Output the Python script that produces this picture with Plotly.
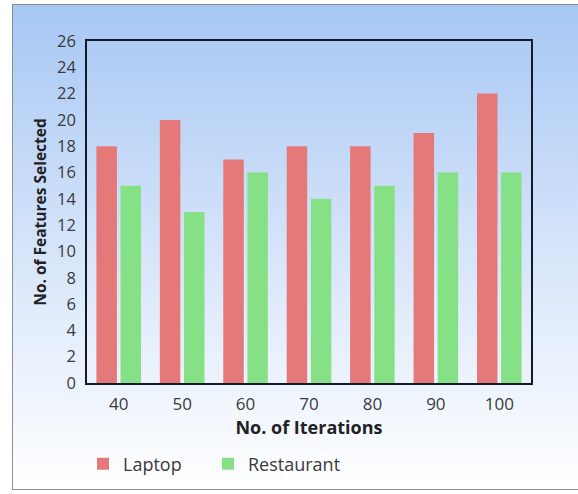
import base64
import plotly.graph_objects as go

iterations = ["40", "50", "60", "70", "80", "90", "100"]
laptop = [18, 20, 17, 18, 18, 19, 22]
restaurant = [15, 13, 16, 14, 15, 16, 16]
y_ticks = list(range(0, 27, 2))

W, H = 578, 494
ML, MR, MT, MB = 87, 47, 41, 111
PW, PH = W - ML - MR, H - MT - MB

bg_svg = (
    '<svg xmlns="http://www.w3.org/2000/svg" width="578" height="494" viewBox="0 0 578 494" preserveAspectRatio="none">'
    '<defs><linearGradient id="g" x1="0" y1="0" x2="0" y2="1">'
    '<stop offset="0" stop-color="#a7c7f4"/><stop offset="0.55" stop-color="#dae7fa"/>'
    '<stop offset="1" stop-color="#ffffff"/></linearGradient></defs>'
    '<rect x="0" y="0" width="578" height="494" fill="#ffffff"/>'
    '<rect x="12.5" y="4.5" width="570" height="485" fill="url(#g)" stroke="#8a8f96" stroke-width="1"/>'
    '</svg>'
)
bg_uri = "data:image/svg+xml;base64," + base64.b64encode(bg_svg.encode()).decode()

fig = go.Figure()
fig.add_trace(go.Bar(
    x=iterations, y=laptop, name="Laptop", legend="legend",
    marker=dict(color="#e57878", line=dict(width=0)),
))
fig.add_trace(go.Bar(
    x=iterations, y=restaurant, name="Restaurant", legend="legend2",
    marker=dict(color="#86e086", line=dict(width=0)),
))

font_family = "Open Sans, Segoe UI, DejaVu Sans, sans-serif"
legend_style = dict(
    orientation="h", y=-0.237, xanchor="left", yanchor="middle",
    font=dict(size=18, color="#3a3a3a"), bgcolor="rgba(0,0,0,0)",
)

fig.update_layout(
    width=W, height=H,
    margin=dict(l=ML, r=MR, t=MT, b=MB, pad=0),
    paper_bgcolor="rgba(0,0,0,0)",
    plot_bgcolor="rgba(0,0,0,0)",
    barmode="group",
    bargap=0.24,
    bargroupgap=0.15,
    font=dict(family=font_family, size=16, color="#3a3a3a"),
    showlegend=True,
    legend=dict(x=-0.009, **legend_style),
    legend2=dict(x=0.2725, **legend_style),
    images=[dict(
        source=bg_uri, xref="paper", yref="paper",
        x=-ML / PW, y=1 + MT / PH, sizex=W / PW, sizey=H / PH,
        xanchor="left", yanchor="top", sizing="stretch", layer="below",
    )],
    xaxis=dict(
        title=dict(text="<b>No. of Iterations</b>", font=dict(size=18, color="#222222"), standoff=4),
        showline=True, linecolor="#151a28", linewidth=1.5, mirror=True,
        showgrid=False, ticks="", ticklabelstandoff=5,
        tickfont=dict(size=17, color="#3a3a3a"),
    ),
    yaxis=dict(
        title=dict(text="<b>No. of Features Selected</b>", font=dict(size=15.5, color="#222222"), standoff=7),
        range=[0, 26], tickvals=y_ticks, showline=True, linecolor="#151a28", linewidth=1.5,
        mirror=True, showgrid=False, zeroline=False, ticks="", ticklabelstandoff=6,
        tickfont=dict(size=16.5, color="#3a3a3a"),
    ),
)

fig.write_html("out.html")
